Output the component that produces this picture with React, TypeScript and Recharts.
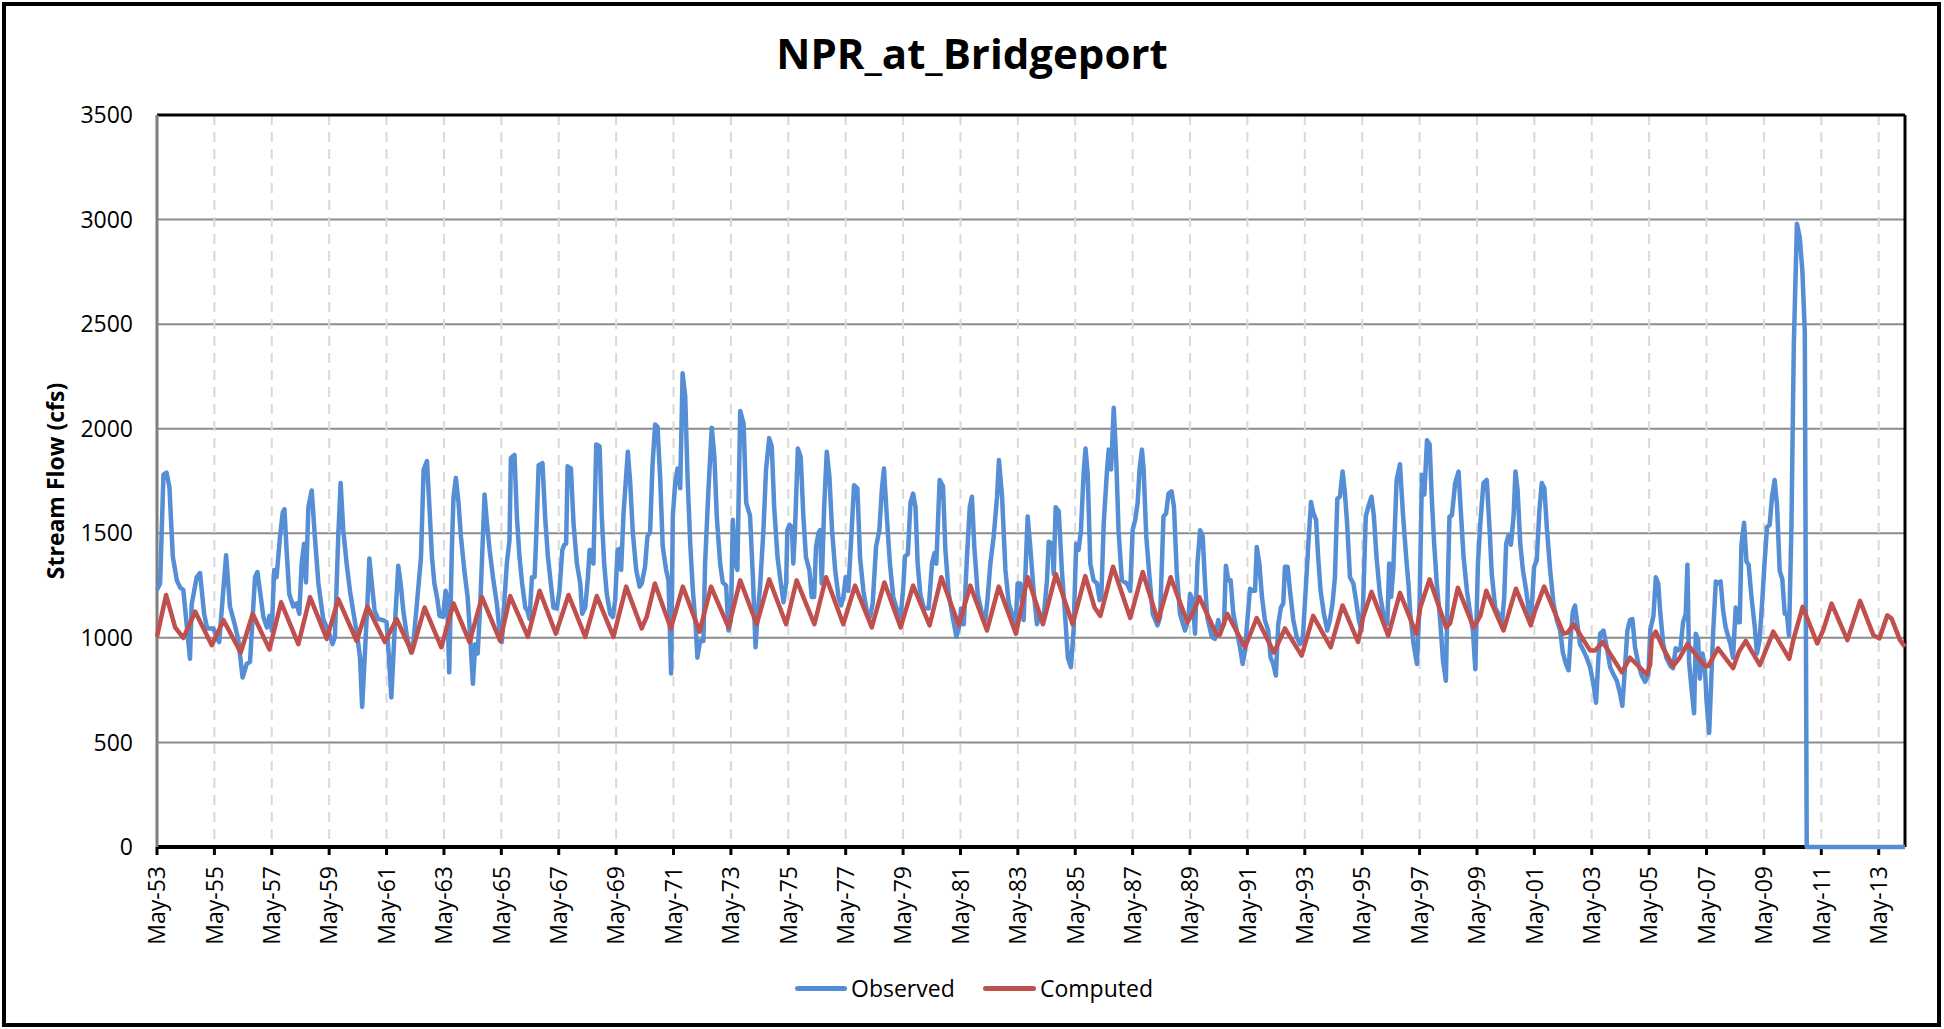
import React from "react";
import { LineChart, Line, XAxis, YAxis, CartesianGrid, ReferenceLine } from "recharts";

// month index counted from May-1953, flow in cfs (vertices)
const observed: [number, number][] = [
  [0,1230],[1.3,1260],[2.7,1780],[4,1790],[5.2,1720],[6.6,1390],[8.3,1275],[9.7,1240],[11,1230],[13.8,900],[14.5,1160],[16.6,1290],[18,1310],[19.7,1115],[21,1045],[23.6,1045],[25,1000],[26,980],[28.9,1395],[30.5,1150],[32.6,1060],[34,990],[35.8,810],[37.5,875],[38.9,885],
  [41,1290],[42,1315],[43,1230],[44.5,1100],[46,1050],[47,1105],[48,1035],[49,1325],[50,1290],[51.4,1480],[52.6,1600],[53.3,1615],[54.2,1420],[55.3,1210],[57,1150],[58.4,1165],[59.5,1115],[60.5,1355],[61.5,1450],[62.3,1265],[63.3,1625],[64.7,1705],[66,1485],[67.5,1260],[69.5,1090],[71.6,1035],[73.4,970],[74.4,1005],[75.8,1485],[76.8,1740],[77.9,1515],[79.3,1355],[80.7,1225],[82,1130],[83.8,1005],[84.9,905],[85.8,670],[87,940],[88,1165],[88.8,1380],[89.7,1275],[91,1130],[92.5,1090],[94.6,1085],[96,1075],[97,905],[98,715],[99.5,1065],[100.9,1345],[101.9,1260],[103,1130],[104.6,1000],
  [106.2,930],[107.3,985],[108.7,1165],[110.4,1385],[111.5,1805],[112.9,1845],[114,1610],[115,1385],[116,1260],[117.1,1195],[118.2,1105],[119.6,1100],[120.7,1225],[121.3,1195],[122.2,835],[123.3,1420],[124,1675],[125,1765],[126.1,1645],[127.1,1485],[128.5,1325],[129.9,1195],[131,1005],[132.1,780],[133.1,970],[134.1,925],[135.2,1165],[136.3,1485],[137,1685],[138,1545],[139.1,1420],[140.5,1290],[142.1,1165],[143.5,1005],[144.2,980],[145.2,1165],[146.3,1355],[147.4,1465],[148,1860],[149.5,1875],[150.5,1580],[151.6,1385],[152.7,1260],[154,1145],[154.9,1130],[155.8,1090],[156.8,1290],[157.9,1290],[158.6,1485],[159.6,1825],[161.2,1835],[162.3,1580],[163.5,1385],[164.7,1260],[165.8,1145],[167.2,1140],[168.3,1225],[169.5,1420],[170.3,1445],[171.1,1450],[171.7,1820],[173.1,1810],[174.2,1545],[175.6,1355],[177,1260],[177.8,1115],[179.1,1145],[180.2,1290],[180.9,1420],[181.8,1420],[182.5,1355],[183.7,1925],[185.1,1915],[186,1580],[187,1355],[188.1,1210],[189.5,1115],[190.6,1100],[191.6,1180],[192.6,1420],[193.4,1425],[194.1,1325],[195.1,1595],[196.9,1890],[197.9,1740],[199,1500],[200.4,1325],[201.8,1245],[202.7,1260],[204.1,1340],[205.1,1485],[206.2,1505],[207.2,1820],[208.3,2020],[209.3,2010],[210.4,1770],
  [211.5,1435],[212.9,1325],[213.9,1275],[215,830],[215.7,1580],[216.7,1740],[217.7,1810],[218.8,1715],[219.8,2265],[220.9,2155],[221.9,1755],[223,1450],[224.1,1225],[225.2,1065],[226,905],[227.1,985],[228.5,985],[229.2,1355],[230.6,1705],[232,2005],[233.1,1865],[234.1,1580],[235.5,1355],[236.6,1265],[238,1250],[239,1035],[240,1085],[240.8,1565],[241.8,1355],[242.7,1325],[243.9,2085],[245.3,2025],[246.4,1645],[248,1585],[249.2,1290],[250.3,955],[251.1,1100],[252.2,1245],[253.6,1515],[254.7,1805],[256,1955],[257.1,1915],[258.1,1625],[259.5,1385],[260.9,1260],[262,1170],[263.1,1260],[263.6,1515],[264.5,1540],[265.5,1530],[266.1,1355],[266.8,1515],[268,1905],[269.2,1865],[270.3,1580],[271.4,1385],[272.8,1325],[273.8,1195],[274.8,1195],[275.6,1435],[276.6,1500],[277.3,1515],[278,1260],[279,1625],[280.1,1890],[281.2,1770],[282.3,1515],[283.6,1325],[285,1195],[286.1,1155],[287,1195],[288,1290],[289.1,1225],[290.5,1515],[291.5,1730],[292.9,1715],[294,1385],[295.4,1225],[296.8,1130],[298.2,1100],[299.3,1165],[300.7,1435],[302.1,1515],[303.1,1705],[304,1810],[305.2,1580],[306.5,1355],[307.9,1195],[309.6,1130],[311,1100],
  [312.1,1245],[312.8,1390],[314,1400],[315.1,1645],[316.2,1690],[317.2,1625],[318.1,1355],[319.2,1210],[320.6,1145],[322.7,1140],[324.1,1355],[325.1,1405],[325.9,1355],[327.3,1755],[328.7,1725],[329.7,1420],[331.1,1210],[332.5,1115],[334.3,1005],[335.7,1065],[336.2,1140],[337.4,1065],[338.7,1385],[339.9,1625],[340.8,1675],[341.8,1435],[343.2,1210],[345,1115],[346.4,1085],[347.4,1195],[348.5,1355],[349.9,1485],[351.3,1675],[352.1,1850],[353.4,1675],[354.8,1325],[356.2,1165],[357.6,1115],[359,1035],[359.9,1260],[361,1260],[362.4,1085],[364.1,1580],[365.2,1435],[366.6,1225],[368,1065],[369.4,1115],[370.8,1100],[372.2,1275],[372.9,1460],[374.3,1450],[375,1305],[375.8,1625],[377.1,1605],[378.4,1325],[379.8,1100],[380.9,905],[382.2,860],[383.3,1035],[384.4,1450],[385.4,1420],[386.4,1515],[387.5,1785],[388.3,1905],[389.2,1785],[390.3,1355],[391.7,1275],[393.1,1260],[394.2,1180],[394.9,1195],[395.9,1545],[397.3,1805],[398,1900],[399,1805],[400.1,2100],[401.2,1835],[402.1,1515],[403.5,1275],[405.6,1260],[407,1225],[408,1515],[409.1,1565],[410.1,1645],[410.9,1805],[411.9,1900],[412.6,1805],[413.7,1485],[415,1300],[416.4,1115],
  [418.4,1060],[419.5,1100],[420.9,1580],[422,1595],[423,1690],[424.3,1700],[425.3,1625],[426.4,1325],[427.8,1115],[429.9,1035],[431.3,1085],[432,1210],[433.1,1180],[434.1,1020],[435.1,1355],[436.2,1515],[437.3,1485],[438.3,1260],[439.2,1100],[441.1,1005],[442.4,995],[443.8,1085],[444.8,1035],[446.2,1065],[447,1345],[448,1275],[449,1275],[450.1,1115],[451.8,1020],[452.9,955],[454,875],[455,940],[456.1,1100],[457.1,1235],[458.2,1225],[459.2,1225],[459.9,1435],[461,1355],[462.1,1195],[463.3,1085],[464.7,1035],[465.7,905],[466.8,875],[467.9,820],[468.9,1065],[470,1145],[471,1165],[471.7,1340],[472.8,1340],[473.8,1225],[475.2,1085],[476.6,1005],[478,970],[479.1,985],[480.2,1195],[481.5,1450],[482.6,1650],[483.6,1595],[484.7,1565],[485.6,1385],[486.6,1225],[488,1115],[489.4,1035],[490.5,1085],[491.6,1165],[492.6,1290],[493.6,1665],[494.7,1675],[495.8,1795],[496.8,1690],[497.7,1545],[498.9,1290],[500.3,1260],[501.4,1180],[502.6,1085],[503.7,1035],[504.4,1165],[505.5,1580],[506.5,1625],[507.9,1675],[508.9,1580],[510,1385],[511.4,1210],[512.8,1115],[514.5,1065],[515.3,1355],[516.1,1195],[517,1325],[518.4,1755],[519.8,1830],[521,1600],[522.3,1400],[523.4,1250],
  [524.1,1115],[525.5,970],[526.9,875],[528,1165],[529,1780],[530,1685],[531.1,1945],[532.2,1925],[533.2,1645],[534.1,1450],[535.2,1260],[536.6,1085],[537.8,890],[539,795],[539.7,1195],[540.5,1580],[541.5,1585],[542.9,1740],[544.3,1795],[545.3,1595],[546.4,1385],[547.8,1225],[549.2,1115],[550.3,1035],[551.3,850],[552.4,1355],[553.4,1545],[554.7,1740],[556.1,1755],[557.3,1515],[558.2,1305],[559.6,1145],[561,1115],[562.4,1065],[563.4,1195],[564.2,1450],[565.2,1490],[566.2,1445],[567.3,1580],[568.1,1795],[569,1705],[570.1,1450],[571.2,1325],[572.6,1225],[574,1100],[574.9,1145],[575.9,1340],[577,1370],[578.1,1610],[579.1,1740],[580.2,1715],[581.2,1530],[582.6,1325],[584,1165],[585.4,1085],[586.8,1035],[587.9,930],[589.2,875],[590.3,845],[591.2,1005],[592.1,1125],[593,1155],[594,1065],[595.1,970],[596.5,940],[597.9,905],[599.3,860],[600.7,780],[601.8,690],[602.8,905],[603.5,1020],[604.9,1035],[606.3,955],[607.7,860],[609.1,825],[610.5,795],[611.9,730],[612.8,675],[614,875],[614.9,1035],[616,1085],[617,1090],[618.1,955],[619.5,875],[620.9,820],[622.3,790],[623.7,825],
  [624.5,1040],[625.8,1105],[626.8,1290],[627.8,1260],[628.7,1115],[629.9,970],[631.2,905],[632.9,865],[634,855],[635.1,950],[636.1,940],[637.1,950],[638.2,1075],[639.3,1115],[640,1350],[640.7,885],[641.7,760],[642.8,640],[643.5,1020],[644.5,990],[645.2,805],[646.3,925],[647.3,865],[648,700],[649.1,545],[650,805],[650.7,1010],[651.9,1270],[652.8,1260],[653.9,1270],[654.9,1135],[656,1050],[657,1010],[658,970],[659.1,905],[660.2,1145],[661.2,1075],[661.9,1075],[662.6,1445],[663.7,1550],[664.7,1365],[665.6,1350],[666.8,1195],[668.2,1050],[669.1,925],[670.2,990],[671.4,1195],[672.3,1365],[673.3,1530],[674.4,1540],[675.4,1675],[676.5,1755],[677.5,1630],[678.6,1320],[679.7,1280],[680.7,1115],[681.6,1115],[682.5,1010],[683.5,1530],[684.5,2400],[685.8,2980],[687,2915],[688.1,2750],[689.1,2460],[689.9,0],[731,0],
];

const computed: [number, number][] = [
  [0,1005],[3.8,1205],[7.6,1050],[11,1000],[16,1125],[22.9,965],[27.8,1085],[35,930],[40,1115],[47,945],[51.9,1170],[59.1,970],[64,1195],[71,995],[75.8,1185],[83.5,985],[88,1150],[95.3,980],[100.2,1090],
  [106.6,930],[111.9,1145],[118.9,955],[124,1165],[130.7,980],[135.9,1195],[143.5,985],[147.7,1200],[155.1,1005],[160,1225],[166.8,1020],[172.1,1205],[179.1,1005],[183.9,1200],[190.9,1005],[196.2,1245],[202.7,1045],[204.8,1100],[208.2,1260],
  [214.9,1045],[219.9,1245],[226.9,1030],[231.7,1245],[239,1050],[243.9,1275],[250.8,1065],[256,1280],[263.1,1065],[267.5,1275],[274.9,1065],[279.8,1290],[287,1065],[291.9,1250],[298.9,1050],[304.2,1265],[311,1050],
  [316.2,1250],[323.1,1060],[328,1290],[335.3,1060],[340.1,1250],[347.1,1035],[352,1245],[359.2,1020],[364.1,1290],[370.5,1065],[375.9,1305],[382.9,1065],[388.2,1295],[392.1,1145],[394.5,1105],[399.8,1340],[407,1095],[412.2,1315],
  [418.6,1080],[423.9,1290],[430.9,1075],[433.1,1115],[435.9,1195],[443.1,1015],[444.5,1015],[447.6,1115],[455,955],[459.9,1095],[467.1,930],[471.7,1045],[478.7,915],[483.5,1105],[490.8,955],[495.8,1155],[502.3,980],[504.4,1100],[507.9,1220],[514.9,1010],[519.8,1215],
  [526.6,1020],[528.3,1145],[532.2,1280],[539.1,1050],[540.8,1070],[544,1240],[550.6,1050],[553.4,1105],[555.9,1225],[563.1,1035],[568.3,1235],[574.5,1060],[576.3,1130],[580.1,1245],[588.2,1020],[589.9,1025],[592.4,1065],[599.3,940],[601.4,940],[604.6,980],[612.6,835],[616,905],[623,825],
  [624.4,870],[625.1,1000],[626.8,1030],[629.9,950],[634,865],[636.8,905],[640,970],[647.3,865],[648.7,865],[652.8,950],[659.1,855],[661.6,935],[664.4,985],[670.3,870],[675.9,1030],[682.6,900],[684.3,990],[688.2,1148],[694.3,973],[696.8,1037],[700.3,1164],[706.9,989],[712.2,1177],[717.8,1013],[720.3,997],[723.6,1108],[725.4,1092],[728.9,989],[731,957],
];

const tickMonths = [0, 24, 48, 72, 96, 120, 144, 168, 192, 216, 240, 264, 288, 312, 336, 360, 384, 408, 432, 456, 480, 504, 528, 552, 576, 600, 624, 648, 672, 696, 720];
const tickLabels = ["May-53", "May-55", "May-57", "May-59", "May-61", "May-63", "May-65", "May-67", "May-69", "May-71", "May-73", "May-75", "May-77", "May-79", "May-81", "May-83", "May-85", "May-87", "May-89", "May-91", "May-93", "May-95", "May-97", "May-99", "May-01", "May-03", "May-05", "May-07", "May-09", "May-11", "May-13"];
const flowTicks = [0, 500, 1000, 1500, 2000, 2500, 3000, 3500];

const BLUE = "#558ED5";
const RED = "#C0504D";
const FONT = "'Open Sans', 'Liberation Sans', sans-serif";

const obsData = observed.map(([m, f]) => ({ m, flow: f }));
const compData = computed.map(([m, f]) => ({ m, flow: f }));

const MonthTick = (props: any) => {
  const { x, y, payload } = props;
  const label = tickLabels[tickMonths.indexOf(payload.value)];
  return (
    <text
      x={x}
      y={y}
      transform={`rotate(-90, ${x}, ${y})`}
      textAnchor="end"
      dy="0.36em"
      fontSize={23}
      fill="#000"
      fontFamily={FONT}
    >
      {label}
    </text>
  );
};

const App: React.FC = () => {
  return (
    <div style={{ position: "absolute", left: 0, top: 0, width: 1944, height: 1029, background: "#fff", fontFamily: FONT }}>
      <div style={{ position: "absolute", left: 2, top: 2, width: 1939, height: 1025, border: "4px solid #000", boxSizing: "border-box" }} />
      <div style={{ position: "absolute", left: 0, top: 32, width: 1944, textAlign: "center", fontSize: 42, lineHeight: "42px", fontWeight: 700 }}>
        NPR_at_Bridgeport
      </div>
      <div style={{ position: "absolute", left: 55, top: 481, transform: "translate(-50%, -50%) rotate(-90deg)", fontSize: 23, fontWeight: 700, whiteSpace: "nowrap" }}>
        Stream Flow (cfs)
      </div>
      <LineChart width={1944} height={1029} margin={{ top: 115, right: 39, left: 57, bottom: 82 }}>
        <CartesianGrid vertical={false} stroke="#8c8c8c" strokeWidth={2} />
        <CartesianGrid horizontal={false} stroke="#d9d9d9" strokeWidth={2} strokeDasharray="10 7" />
        <XAxis
          type="number"
          dataKey="m"
          domain={[0, 731]}
          ticks={tickMonths}
          interval={0}
          height={100}
          axisLine={false}
          tickLine={{ stroke: "#000", strokeWidth: 3 }}
          tickSize={8}
          tickMargin={11}
          tick={<MonthTick />}
        />
        <YAxis
          type="number"
          domain={[0, 3500]}
          ticks={flowTicks}
          interval={0}
          width={100}
          axisLine={{ stroke: "#7f7f7f", strokeWidth: 3 }}
          tickLine={false}
          tickSize={0}
          tickMargin={24}
          tick={{ fontSize: 23, fill: "#000", fontFamily: FONT }}
        />
        <ReferenceLine y={0} stroke="#000" strokeWidth={4} />
        <ReferenceLine y={3500} stroke="#000" strokeWidth={3} />
        <ReferenceLine x={731} stroke="#000" strokeWidth={3} />
        <Line
          data={obsData}
          dataKey="flow"
          name="Observed"
          type="linear"
          stroke={BLUE}
          strokeWidth={4.5}
          strokeLinejoin="round"
          dot={false}
          isAnimationActive={false}
          {...({ zIndex: 1000 } as any)}
        />
        <Line
          data={compData}
          dataKey="flow"
          name="Computed"
          type="linear"
          stroke={RED}
          strokeWidth={4.5}
          strokeLinejoin="round"
          dot={false}
          isAnimationActive={false}
          {...({ zIndex: 1001 } as any)}
        />
      </LineChart>
      <div style={{ position: "absolute", left: 795, top: 986, width: 52, height: 5, borderRadius: 3, background: BLUE }} />
      <div style={{ position: "absolute", left: 851, top: 975, fontSize: 23, lineHeight: "26px" }}>Observed</div>
      <div style={{ position: "absolute", left: 983, top: 986, width: 53, height: 5, borderRadius: 3, background: RED }} />
      <div style={{ position: "absolute", left: 1040, top: 975, fontSize: 23, lineHeight: "26px" }}>Computed</div>
    </div>
  );
};

export default App;
